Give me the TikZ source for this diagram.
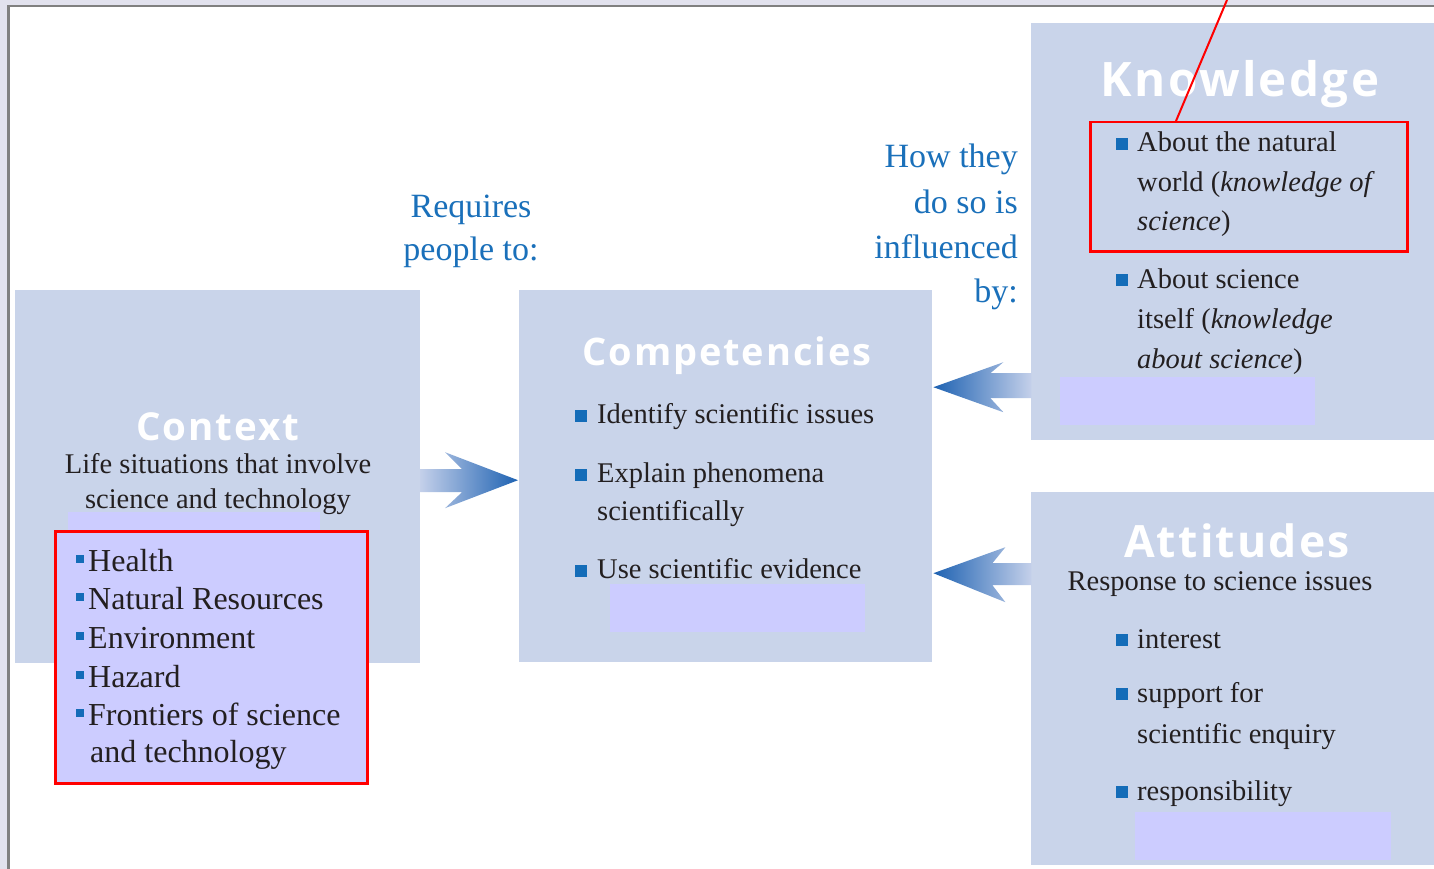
\documentclass[tikz,border=0pt]{standalone}
\usepackage{fontspec}
\setmainfont{Liberation Serif}
\newfontfamily\headfont[LetterSpace=5]{Open Sans}
\usetikzlibrary{calc}
\definecolor{frame}{RGB}{226,226,238}
\definecolor{panel}{RGB}{201,212,234}
\definecolor{lilac}{RGB}{204,204,255}
\definecolor{flowdark}{RGB}{30,98,178}
\definecolor{flowlight}{RGB}{196,208,234}
\definecolor{ink}{RGB}{35,31,32}
\definecolor{sky}{RGB}{26,112,186}
\definecolor{bulblue}{RGB}{20,108,184}
\tikzset{
  panel/.style={fill=panel,inner sep=0,anchor=north west},
  patch/.style={fill=lilac,inner sep=0,anchor=north west},
  redbox/.style={draw=red,line width=2.5pt,inner sep=0,anchor=north west},
  title/.style={font=\headfont\bfseries\fontsize{#1}{#1}\selectfont,text=white,inner sep=0,anchor=base},
  title/.default=46,
  body/.style={font=\fontsize{28.5}{34}\selectfont,text=ink,inner sep=0,anchor=base west},
  listtext/.style={font=\fontsize{32}{38}\selectfont,text=ink,inner sep=0,anchor=base west},
  note/.style={font=\fontsize{34}{44}\selectfont,text=sky,inner sep=0},
  bul/.style={fill=bulblue,inner sep=0,minimum size=#1,anchor=south west},
  bul/.default=12pt,
  flowR/.style={left color=flowlight,right color=flowdark},
  flowL/.style={left color=flowdark,right color=flowlight},
}

\begin{document}
\begin{tikzpicture}[x=1pt,y=-1pt]
  \useasboundingbox (0,0) rectangle (1434,869);
  % page frame
  \fill[frame] (0,0) rectangle (1434,869);
  \fill[white] (9,7) rectangle (1434,869);
  \draw[gray,line width=2.5pt] (8.5,869) -- (8.5,6) -- (1434,6);

  % panels
  \node[panel,minimum width=405pt,minimum height=373pt] (ctx) at (15,290) {};
  \node[panel,minimum width=413pt,minimum height=372pt] (comp) at (519,290) {};
  \node[panel,minimum width=403pt,minimum height=417pt] (know) at (1031,23) {};
  \node[panel,minimum width=403pt,minimum height=373pt] (att) at (1031,492) {};

  \node[patch,minimum width=252pt,minimum height=30pt] (p0) at (68,512) {};
  \node[patch,minimum width=255pt,minimum height=48pt] (p1) at (610,584) {};
  \node[patch,minimum width=255pt,minimum height=48pt] (p2) at (1060,377) {};
  \node[patch,minimum width=256pt,minimum height=48pt] (p3) at (1135,812) {};

  % arrows
  \coordinate (tipc) at ($(comp.west)+(-1,4)$);
  \coordinate (tipk) at ($(comp.east)+(1,-89)$);
  \coordinate (tipa) at ($(comp.east)+(1,97)$);
  \shade[flowR] (tipc) -- ++(-73,-28) -- ++(17,17) -- ++(-42,0) -- ++(0,23) -- ++(42,0) -- ++(-17,16) -- cycle;
  \shade[flowL] (tipk) -- ++(70,-25) -- ++(-13,11) -- ++(41,0) -- ++(0,25) -- ++(-41,0) -- ++(13,14) -- cycle;
  \shade[flowL] (tipa) -- ++(72,-26) -- ++(-13,16) -- ++(39,0) -- ++(0,22) -- ++(-39,0) -- ++(13,17) -- cycle;

  % titles
  \node[title=47.5] (tk) at (1240,97) {Knowledge};
  \node[title=38] (tc) at (727,365) {Competencies};
  \node[title=38.5] (tx) at (218,440) {Context};
  \node[title=44.5] (ta) at (1237,557) {Attitudes};

  % side notes
  \node[note,anchor=base] (r1) at (471,217) {Requires};
  \node[note,anchor=base] (r2) at (471,260) {people to:};
  \foreach \t/\y [count=\i] in {How they/168,do so is/213,influenced/258,by:/302}
    \node[note,anchor=base east] (h\i) at (1018,\y) {\t};

  % context
  \node[body,anchor=base] (s1) at (218,473) {Life situations that involve};
  \node[body,anchor=base] (s2) at (218,508) {science and technology};
  \node[redbox,fill=lilac,minimum width=312pt,minimum height=252pt] (ctxlist) at (54,530) {};
  \foreach \t/\y [count=\i] in {Health/571,Natural Resources/609,Environment/648,Hazard/687,Frontiers of science/725}{
    \node[bul=8pt] (cb\i) at (76,\y-8) {};
    \node[listtext] (c\i) at (88,\y) {\t};
  }
  \node[listtext] (c6) at (90,762) {and technology};

  % competencies
  \foreach \t/\y [count=\i] in {Identify scientific issues/423,Explain phenomena/482,scientifically/520,Use scientific evidence/578}
    \node[body] (m\i) at (597,\y) {\t};
  \foreach \y in {423,482,578}
    \node[bul] (mb\y) at (575,\y-1) {};

  % knowledge
  \foreach \t/\y [count=\i] in {About the natural/152,world (\textit{knowledge of}/192,\textit{science})/230,About science/288,itself (\textit{knowledge}/328,\textit{about science})/368}
    \node[body] (k\i) at (1137,\y) {\t};
  \foreach \y in {152,288}
    \node[bul] (kb\y) at (1116,\y-2) {};
  \node[redbox,minimum width=317pt,minimum height=129pt] (knowred) at (1089,121) {};

  % attitudes
  \node[body,anchor=base] (s3) at (1220,590) {Response to science issues};
  \foreach \t/\y [count=\i] in {interest/648,support for/702,scientific enquiry/743,responsibility/800}
    \node[body] (a\i) at (1137,\y) {\t};
  \foreach \y in {648,702,800}
    \node[bul] (ab\y) at (1116,\y-2) {};

  \coordinate (pin) at (1227,0);
  \draw[red,line width=2pt] ($(knowred.north west)+(87,0)$) -- (pin);
\end{tikzpicture}
\end{document}
